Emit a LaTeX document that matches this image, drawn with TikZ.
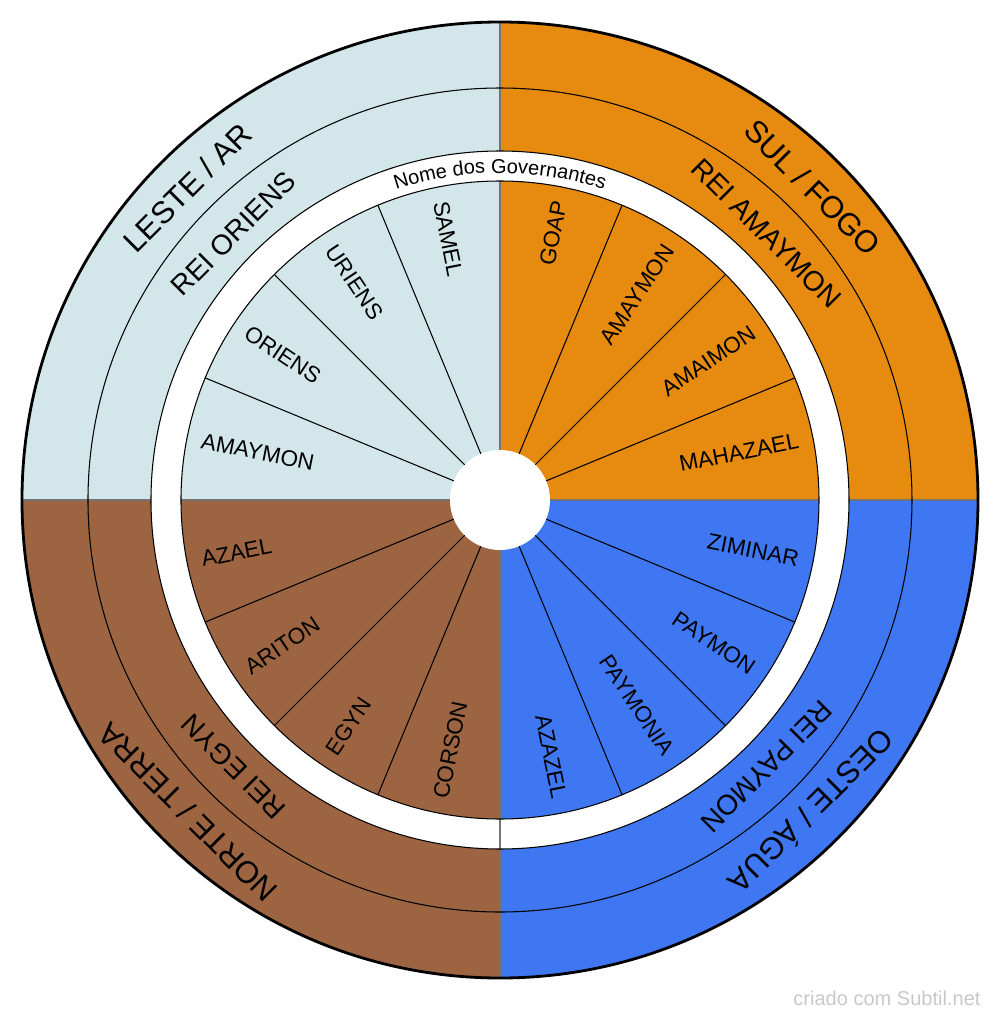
\documentclass[tikz,border=0pt]{standalone}
\usepackage{fontspec}
\setmainfont{Liberation Sans}
\usetikzlibrary{decorations.text}
\definecolor{ar}{HTML}{D3E7EA}
\definecolor{fogo}{HTML}{E68A10}
\definecolor{agua}{HTML}{3F77F2}
\definecolor{terra}{HTML}{9C6440}
\definecolor{marca}{HTML}{C8C8C8}
\begin{document}
\begin{tikzpicture}[
  gov/.style={font=\fontsize{6.4}{7}\selectfont,inner sep=0pt},
  rei/.style={font=\fontsize{8}{9}\selectfont,inner sep=0pt},
  ponto/.style={font=\fontsize{8.8}{10}\selectfont,inner sep=0pt},
  divisa/.style={draw=black!55,line width=0.45pt}]
\useasboundingbox (-5,-5.18) rectangle (5,5);

% Quadrants
\foreach \a/\c in {90/ar,0/fogo,270/agua,180/terra}
  \fill[\c] (0,0) -- (\a:4.78) arc (\a:\a+90:4.78) -- cycle;

% White ring and centre
\fill[white,even odd rule] (0,0) circle (3.49) circle (3.19);
\fill[white] (0,0) circle (0.5);

% Sector lines
\foreach \k in {1,2,3,5,6,7,9,10,11,13,14,15}
  \draw[line width=0.3pt] (\k*22.5:0.5) -- (\k*22.5:3.19);

% Quadrant borders
\draw[divisa] (0,4.78) -- (0,3.49) (0,3.19) -- (0,0.5);
\draw[divisa] (0,-4.78) -- (0,-0.5);
\draw[divisa] (-4.78,0) -- (-3.49,0) (-3.19,0) -- (-0.5,0);
\draw[divisa] (4.78,0) -- (3.49,0) (3.19,0) -- (0.5,0);

% Circles
\draw[line width=0.3pt] (0,0) circle (4.12) circle (3.49) circle (3.19);
\draw[line width=0.8pt] (0,0) circle (4.78);

% Ring title
\path[decorate,decoration={text along path,text align=center,
  text={|\fontsize{5.7}{6}\selectfont|Nome dos Governantes}}]
  (120:3.27) arc (120:60:3.27);

% Elements and kings
\foreach \a/\t/\r [count=\i] in {135/{LESTE / AR}/{REI ORIENS},45/{SUL / FOGO}/{REI AMAYMON},
    -45/{OESTE / ÁGUA}/{REI PAYMON},-135/{NORTE / TERRA}/{REI EGYN}}{
  \node[ponto,rotate=\a-90] (ponto-\i) at (\a:4.42) {\t};
  \node[rei,rotate=\a-90] (rei-\i) at (\a:3.77) {\r};
}

% Governors
\foreach \a/\t [count=\i] in {168.75/AMAYMON,146.25/ORIENS,123.75/URIENS,101.25/SAMEL,
    191.25/AZAEL,213.75/ARITON,236.25/EGYN,258.75/CORSON}
  \node[gov,anchor=west,rotate=\a-180] (gov-l\i) at (\a:3.05) {\t};
\foreach \a/\t [count=\i] in {78.75/GOAP,56.25/AMAYMON,33.75/AMAIMON,11.25/MAHAZAEL,
    -11.25/ZIMINAR,-33.75/PAYMON,-56.25/PAYMONIA,-78.75/AZAZEL}
  \node[gov,anchor=east,rotate=\a] (gov-r\i) at (\a:3.05) {\t};

% Watermark
\node[marca,font=\fontsize{5.7}{6}\selectfont] (marca) at (3.87,-4.98) {criado com Subtil.net};
\end{tikzpicture}
\end{document}
